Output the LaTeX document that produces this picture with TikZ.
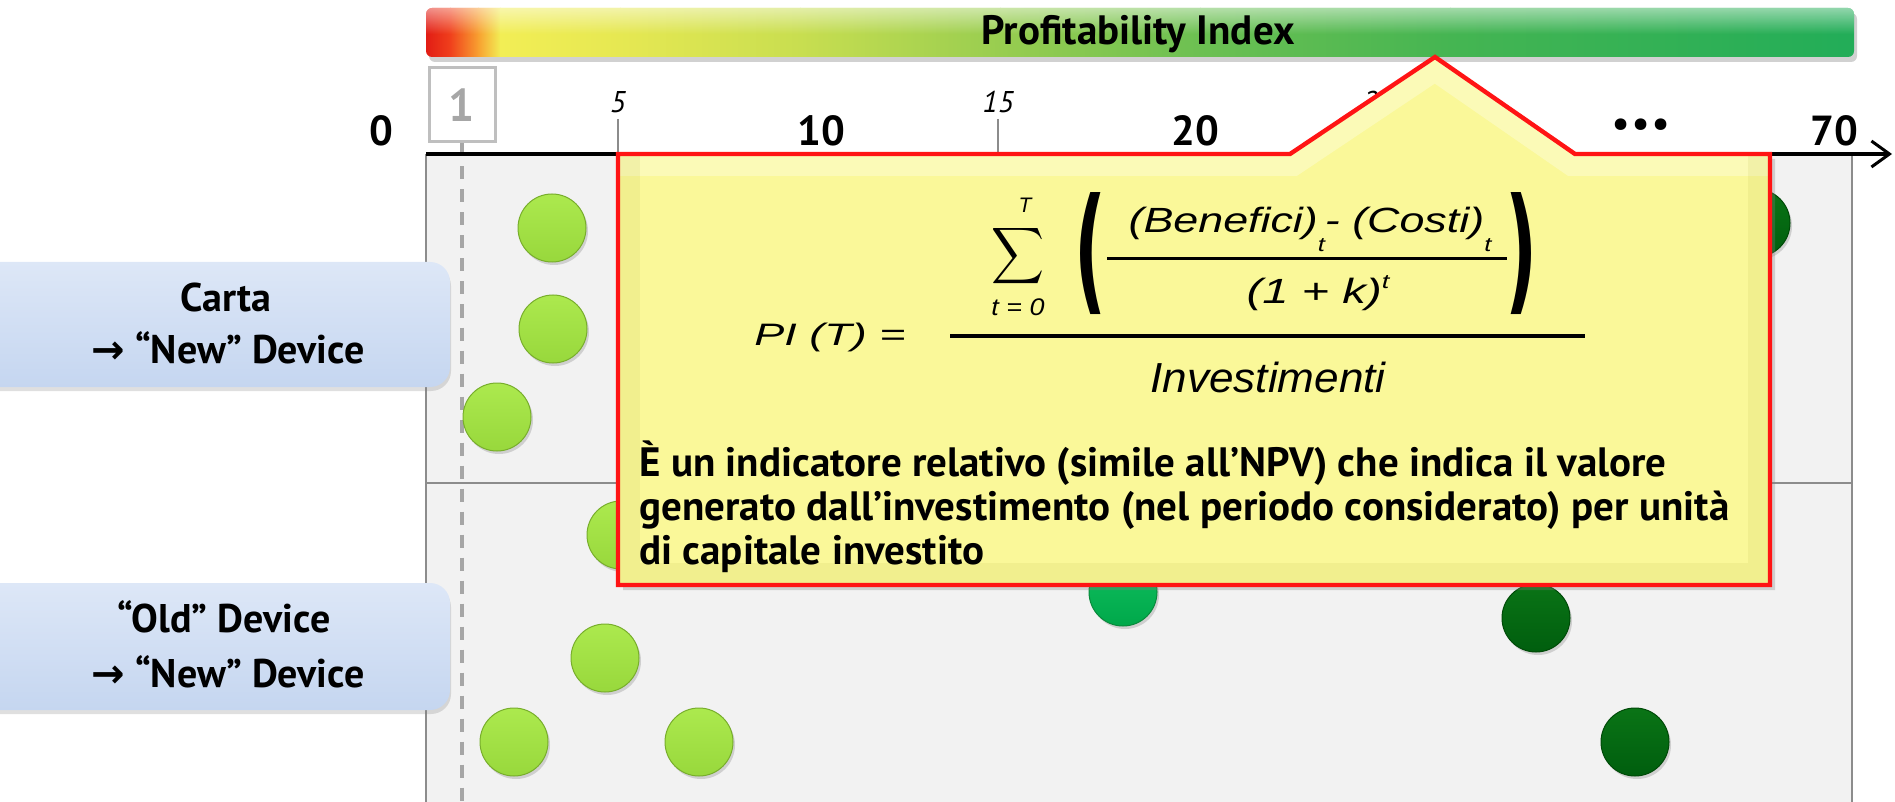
\documentclass[tikz,border=0pt]{standalone}
\usepackage{graphicx}
\usepackage{fontspec}
\setmainfont{PT Sans}
\newfontfamily\symfont{DejaVu Sans}
\newfontfamily\frmfont{Liberation Sans}
\usetikzlibrary{shadows,arrows.meta,fadings}
\definecolor{plotbg}{HTML}{F2F2F2}
\definecolor{plotline}{HTML}{8C8C8C}
\definecolor{dashgray}{HTML}{A6A6A6}
\definecolor{boxgray}{HTML}{BFBFBF}
\definecolor{lgreen}{HTML}{98D83C}
\definecolor{lgreenD}{HTML}{78AE2C}
\definecolor{lgreenL}{HTML}{ACE94E}
\definecolor{mgreen}{HTML}{00A84A}
\definecolor{mgreenD}{HTML}{0A8A3C}
\definecolor{mgreenL}{HTML}{10C060}
\definecolor{dgreen}{HTML}{005E0E}
\definecolor{dgreenD}{HTML}{004A08}
\definecolor{dgreenL}{HTML}{0A7416}
\definecolor{calloutfill}{HTML}{FAF899}
\definecolor{calloutdark}{HTML}{B8B040}
\definecolor{calloutred}{HTML}{FF1414}
\definecolor{labtop}{HTML}{DDE7F7}
\definecolor{labbot}{HTML}{C5D6F0}
\definecolor{c1}{HTML}{E11B14}
\definecolor{c2}{HTML}{F0401C}
\definecolor{c3}{HTML}{F8A030}
\definecolor{c4}{HTML}{F2EE55}
\definecolor{c5}{HTML}{E6E852}
\definecolor{c6}{HTML}{C8DE50}
\definecolor{c7}{HTML}{98CD50}
\definecolor{c8}{HTML}{6CC052}
\definecolor{c9}{HTML}{45B552}
\definecolor{c10}{HTML}{22AD58}
\tikzset{
  bub/.style={circle, minimum size=34pt, inner sep=0pt, line width=0.5pt,
    drop shadow={opacity=0.3, shadow xshift=1pt, shadow yshift=-1.5pt}},
  lbub/.style={bub, draw=lgreenD, top color=lgreenL, bottom color=lgreen},
  mbub/.style={bub, draw=mgreenD, top color=mgreenL, bottom color=mgreen},
  dbub/.style={bub, draw=dgreenD, top color=dgreenL, bottom color=dgreen},
  labbox/.style={rounded corners=10pt, top color=labtop, bottom color=labbot,
    drop shadow={opacity=0.25, shadow xshift=0.5pt, shadow yshift=-2pt}},
  labtxt/.style={font=\bfseries\fontsize{20pt}{22pt}\selectfont, inner sep=0pt, anchor=base},
  bignum/.style={font=\bfseries\fontsize{21pt}{22pt}\selectfont, inner sep=0pt, anchor=base},
  smallnum/.style={font=\itshape\fontsize{15pt}{16pt}\selectfont, inner sep=0pt, anchor=base},
  frm/.style={inner sep=0pt, anchor=base},
  para/.style={font=\bfseries\fontsize{20.5pt}{22pt}\selectfont, inner sep=0pt, anchor=base west},
  tick/.style={plotline, line width=1pt}
}
\newcommand{\ff}[1]{\frmfont\itshape\fontsize{#1}{#1}\selectfont}
\begin{document}
\begin{tikzpicture}[x=0.5pt,y=-0.5pt]
\useasboundingbox (0,0) rectangle (1895,802);
% plot area
\fill[plotbg] (426,154) rectangle (1852,810);
\draw[plotline, line width=0.8pt] (426,810) -- (426,154);
\draw[plotline, line width=0.8pt] (1852,154) -- (1852,810);
\draw[plotline, line width=0.8pt] (426,483) -- (1852,483);
% "1" marker
\node[draw=boxgray, line width=1.5pt, minimum width=33pt, minimum height=37pt, inner sep=0pt,
  text=dashgray, font=\bfseries\fontsize{23pt}{24pt}\selectfont] (one) at (462,105) {1};
\coordinate (dashend) at (462,810);
\draw[dashgray, line width=1.6pt, dash pattern=on 6.5pt off 5pt] (one.south) -- (dashend);
% bubbles
\node[lbub] (b1) at (552,228) {};
\node[lbub] (b2) at (553,329) {};
\node[lbub] (b3) at (497,417) {};
\node[lbub] (b4) at (621,535) {};
\node[mbub] (b5) at (1123,592) {};
\node[dbub] (b6) at (1536,618) {};
\node[dbub] (b7) at (1635,742) {};
\node[lbub] (b8) at (605,658) {};
\node[lbub] (b9) at (514,742) {};
\node[lbub] (b10) at (699,742) {};
\node[dbub] (b11) at (1756,223) {};
% axis
\coordinate (axstart) at (426,154);
\coordinate (axend) at (1892,154);
\draw[line width=2pt, -{Straight Barb[length=9pt,width=13pt,line width=1.5pt]}] (axstart) -- (axend);
\draw[tick] (618,119) -- (618,154);
\draw[tick] (998,119) -- (998,154);
\draw[tick] (1378,119) -- (1378,154);
\node[bignum] (n0) at (381,146) {0};
\node[bignum] (n10) at (821,146) {10};
\node[bignum] (n20) at (1195,146) {20};
\node[bignum] (n70) at (1834,146) {70};
\node[font=\bfseries\fontsize{19pt}{20pt}\selectfont, inner sep=0pt] (dots) at (1641,128) {•\kern1.5pt•\kern1.5pt•};
\node[smallnum] (n5) at (618,113) {5};
\node[smallnum] (n15) at (998,113) {15};
\node[smallnum] (n25) at (1378,113) {25};
% gradient bar
\fill[black, opacity=0.18] (429,13) [rounded corners=3pt] rectangle (1857,62);
\begin{scope}
\clip[rounded corners=3pt] (426,8) rectangle (1854,57);
\shade[left color=c1, right color=c2] (425,8) rectangle (450.5,57);
\shade[left color=c2, right color=c3] (450,8) rectangle (478.5,57);
\shade[left color=c3, right color=c4] (478,8) rectangle (500.5,57);
\shade[left color=c4, right color=c5] (500,8) rectangle (620.5,57);
\shade[left color=c5, right color=c6] (620,8) rectangle (800.5,57);
\shade[left color=c6, right color=c7] (800,8) rectangle (1000.5,57);
\shade[left color=c7, right color=c8] (1000,8) rectangle (1200.5,57);
\shade[left color=c8, right color=c9] (1200,8) rectangle (1450.5,57);
\shade[left color=c9, right color=c10] (1450,8) rectangle (1855,57);
\fill[white, opacity=0.5, path fading=south] (426,8) rectangle (1854,34);
\end{scope}
\node[font=\bfseries\fontsize{20.5pt}{22pt}\selectfont, inner sep=0pt, anchor=base] (title) at (1138,45) {Profitability Index};
% left labels
\path[labbox] (-40,262) rectangle (450,387);
\path[labbox] (-40,583) rectangle (450,710);
\node[labtxt] (l1a) at (226,312) {Carta};
\node[labtxt] (l1b) at (228,364) {{\symfont\bfseries →} “New” Device};
\node[labtxt] (l2a) at (224,632) {“Old” Device};
\node[labtxt] (l2b) at (228,687) {{\symfont\bfseries →} “New” Device};
% callout
\fill[calloutfill, drop shadow={opacity=0.3, shadow xshift=2.5pt, shadow yshift=-2.5pt}]
  (618,154) -- (1290,154) -- (1435,57) -- (1575,154) -- (1770,154) -- (1770,585) -- (618,585) -- cycle;
\begin{scope}
\clip (618,154) -- (1290,154) -- (1435,57) -- (1575,154) -- (1770,154) -- (1770,585) -- (618,585) -- cycle;
\draw[white, opacity=0.3, line width=22pt, line join=miter] (618,154) -- (1290,154) -- (1435,57) -- (1575,154) -- (1770,154);
\draw[calloutdark, opacity=0.12, line width=22pt, line join=miter] (1770,154) -- (1770,585) -- (618,585) -- (618,154);
\end{scope}
\draw[calloutred, line width=2.2pt, line join=miter]
  (618,154) -- (1290,154) -- (1435,57) -- (1575,154) -- (1770,154) -- (1770,585) -- (618,585) -- cycle;
% formula
\node[frm] (pi) at (830,345) {\ff{15.5pt}\scalebox{1.45}[1]{PI (T) =}};
\coordinate (fb1) at (950,336);
\coordinate (fb2) at (1585,336);
\draw[line width=1.8pt] (fb1) -- (fb2);
\node[frm] (inv) at (1268,392) {\ff{21pt}\scalebox{1.05}[1]{Investimenti}};
\node[inner sep=0pt] (sig) at (1018,256) {\resizebox*{26.5pt}{31.5pt}{$\displaystyle\sum$}};
\node[frm] (supT) at (1025,213) {\ff{10.5pt}T};
\node[frm] (sub0) at (1018,315) {\ff{12pt}\scalebox{1.12}[1]{t = 0}};
\node[inner sep=0pt] (lp) at (1090,254) {\resizebox*{16pt}{61pt}{\symfont\bfseries (}};
\node[inner sep=0pt] (rp) at (1521,254) {\resizebox*{16pt}{61pt}{\symfont\bfseries )}};
\coordinate (ib1) at (1107,259);
\coordinate (ib2) at (1507,259);
\draw[line width=1.5pt] (ib1) -- (ib2);
\node[frm] (num) at (1310,233) {\ff{17.5pt}\scalebox{1.28}[1]{(Benefici)\raisebox{-9.5pt}{\fontsize{10pt}{10pt}\selectfont t}- (Costi)\raisebox{-9.5pt}{\fontsize{10pt}{10pt}\selectfont t}}};
\node[frm] (den) at (1318,304) {\ff{17.5pt}\scalebox{1.35}[1]{(1 + k)\raisebox{8pt}{\fontsize{10pt}{10pt}\selectfont t}}};
% paragraph
\node[para] (p1) at (639,476) {È un indicatore relativo (simile all’NPV) che indica il valore};
\node[para] (p2) at (639,520) {generato dall’investimento (nel periodo considerato) per unità};
\node[para] (p3) at (639,564) {di capitale investito};
\end{tikzpicture}
\end{document}
